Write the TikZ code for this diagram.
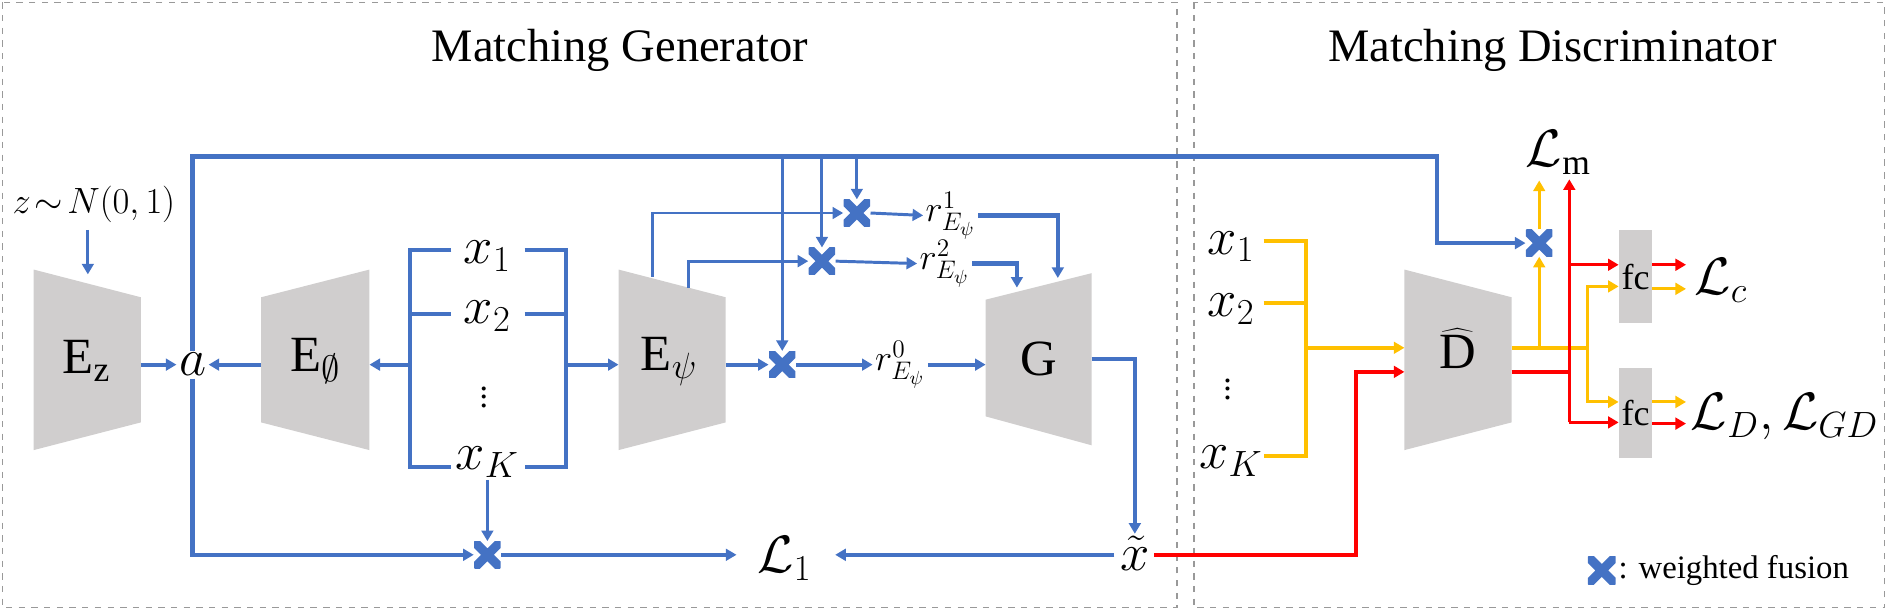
\documentclass[tikz,border=0pt]{standalone}
\usepackage{fontspec}
\setmainfont{Liberation Serif}
\usetikzlibrary{arrows.meta}
\definecolor{bl}{HTML}{4472C4}
\definecolor{yl}{HTML}{FFC000}
\definecolor{rd}{HTML}{FF0000}
\definecolor{gy}{HTML}{D0CECE}
\begin{document}
\begin{tikzpicture}[x=0.02cm,y=-0.02cm,
  tip/.style={-{Triangle[length=5pt,width=5.5pt]}},
  B/.style={draw=bl,line width=2pt},
  Bt/.style={draw=bl,line width=1.4pt},
  Y/.style={draw=yl,line width=2pt},
  Yt/.style={draw=yl,line width=1.4pt},
  R/.style={draw=rd,line width=2pt},
  Rt/.style={draw=rd,line width=1.4pt},
  trap/.style={fill=gy},
  lab/.style={font=\fontsize{24}{27}\selectfont,inner sep=1pt},
  dots/.style={font=\fontsize{16}{18}\selectfont,inner sep=0pt},
  small/.style={font=\fontsize{18}{21}\selectfont,inner sep=1pt},
  title/.style={font=\fontsize{22}{26}\selectfont},
  fuse/.style={minimum size=0.44cm,inner sep=0pt,path picture={
     \draw[bl,line width=4.3pt] (path picture bounding box.north west) -- (path picture bounding box.south east)
       (path picture bounding box.north east) -- (path picture bounding box.south west);}},
  fcbox/.style={fill=gy,minimum width=0.56cm,inner sep=0pt,font=\fontsize{17}{20}\selectfont}
]
\useasboundingbox (0,0) rectangle (1568,507);
\draw[gray!80,dashed,line width=0.7pt] (2,2) rectangle (978,505);
\draw[gray!80,dashed,line width=0.7pt] (992,2) rectangle (1566,505);
\node[title] (t1) at (515,42) {Matching Generator};
\node[title] (t2) at (1290,42) {Matching Discriminator};

% trapezoids
\fill[trap] (28,224) -- (117,247) -- (117,351) -- (28,374) -- cycle;
\fill[trap] (217,247) -- (307,224) -- (307,374) -- (217,351) -- cycle;
\fill[trap] (514,224) -- (603,247) -- (603,351) -- (514,374) -- cycle;
\fill[trap] (819,249) -- (907,227) -- (907,370) -- (819,346) -- cycle;
\fill[trap] (1167,224) -- (1256,247) -- (1256,351) -- (1167,374) -- cycle;
\node[lab] (Ez) at (72,300) {$\mathrm{E_z}$};
\node[lab] (Eo) at (262,300) {$\mathrm{E}_\emptyset$};
\node[lab] (Ep) at (556,300) {$\mathrm{E}_\psi$};
\node[lab] (G) at (863,298) {$\mathrm{G}$};
\node[lab] (D) at (1211,290) {$\widehat{\mathrm{D}}$};
\coordinate (EzR) at (117,303);
\coordinate (EoL) at (217,303);
\coordinate (EoR) at (307,303);
\coordinate (EpL) at (514,303);
\coordinate (EpR) at (603,303);
\coordinate (GL) at (819,303);
\coordinate (GR) at (907,298);
\coordinate (DL1) at (1167,289);
\coordinate (DL2) at (1167,309);

% generator text
\node[small] (z) at (78,170) {$z\!\sim\! N(0,1)$};
\node[lab] (a) at (160,303) {$a$};
\node[lab] (x1) at (405,213) {$x_1$};
\node[lab] (x2) at (405,263) {$x_2$};
\node[dots] (xd) at (402,325) {$\vdots$};
\node[lab] (xK) at (405,384) {$x_K$};
\node[fuse] (c0) at (650,303) {};
\node[fuse] (c1) at (712,177) {};
\node[fuse] (c2) at (683,217) {};
\node[fuse] (c3) at (405,461) {};
\node[small] (r0) at (748,303) {$r^0_{E_\psi}$};
\node[small] (r1) at (790,179) {$r^1_{E_\psi}$};
\node[small] (r2) at (785,219) {$r^2_{E_\psi}$};
\node[lab] (L1) at (652,464) {$\mathcal{L}_1$};
\node[lab] (xt) at (943,460) {$\tilde{x}$};
\coordinate (L1w) at (612,461);
\coordinate (L1e) at (694,461);

\draw[Bt,tip] (73,191) -- (73,228);
\draw[B,tip] (EzR) -- (a.west);
\draw[B,tip] (EoL) -- (a.east);
% bracket
\draw[B] (375,208) -- (341,208) -- (341,388) -- (375,388);
\draw[B] (341,261) -- (375,261);
\draw[B] (436,208) -- (470,208) -- (470,388) -- (436,388);
\draw[B] (436,261) -- (470,261);
\draw[B,tip] (341,303) -- (EoR);
\draw[B,tip] (470,303) -- (EpL);
% E_psi outputs
\draw[B,tip] (EpR) -- (c0.west);
\draw[B,tip] (c0.east) -- (r0.west);
\draw[B,tip] (r0.east) -- (GL);
\draw[Bt,tip] (542,230) |- (c1.west);
\draw[Bt,tip] (572,239) |- (c2.west);
\draw[Bt,tip] (c1.east) -- (r1.west);
\draw[Bt,tip] (c2.east) -- (r2.west);
\draw[B,tip] (r1.east) -| (879,231);
\draw[B,tip] (r2.east) -| (845,239);
% top line
\node[fuse] (cm) at (1279,202) {};
\draw[B,tip] (a.north) |- (1194,130) |- (cm.west);
\draw[Bt,tip] (650,130) -- (c0.north);
\draw[Bt,tip] (683,130) -- (c2.north);
\draw[Bt,tip] (712,130) -- (c1.north);
% G out and bottom
\draw[B,tip] (GR) -| (xt.north);
\draw[B,tip] (a.south) |- (c3.west);
\draw[Bt,tip] (xK.south) -- (c3.north);
\draw[B,tip] (c3.east) -- (L1w);
\draw[B,tip] (926,461) -- (L1e);
\draw[R,tip] (959,461) -| (1127,309) -- (DL2);

% discriminator
\node[lab] (y1) at (1023,205) {$x_1$};
\node[lab] (y2) at (1023,257) {$x_2$};
\node[dots] (yd) at (1020,318) {$\vdots$};
\node[lab] (yK) at (1023,383) {$x_K$};
\draw[Y] (1050,200) -- (1085,200) -- (1085,379) -- (1050,379);
\draw[Y] (1050,252) -- (1085,252);
\draw[Y,tip] (1085,289) -- (DL1);

\node[lab] (Lm) at (1295,127) {$\mathcal{L}_\mathrm{m}$};
\node[fcbox,minimum height=1.54cm] (fc1) at (1359,230) {fc};
\node[fcbox,minimum height=1.5cm] (fc2) at (1359,343) {fc};
\node[lab] (Lc) at (1430,233) {$\mathcal{L}_c$};
\node[lab,anchor=west] (LD) at (1403,346) {$\mathcal{L}_D,\mathcal{L}_{GD}$};

\coordinate (f1y) at (1345,238);
\coordinate (f2y) at (1345,334);
\coordinate (f1r) at (1345,220);
\coordinate (f2r) at (1345,351);
\draw[Y] (1256,289) -- (1319,289);
\draw[Yt,tip] (1279,289) -- (cm.south);
\draw[Yt,tip] (cm.north) -- (1279,150);
\draw[Yt,tip] (1319,289) |- (f1y);
\draw[Yt,tip] (1319,289) |- (f2y);
\draw[R] (1256,309) -- (1304,309);
\draw[Rt,tip] (1304,351) -- (1304,149);
\draw[Rt,tip] (1304,220) -- (f1r);
\draw[Rt,tip] (1304,351) -- (f2r);
\draw[Rt,tip] (1373,220) -- (1401,220);
\draw[Yt,tip] (1373,240) -- (1401,240);
\draw[Yt,tip] (1373,334) -- (1401,334);
\draw[Rt,tip] (1373,352) -- (1401,352);

% legend
\node[fuse,minimum size=0.46cm] (lg) at (1331,474) {};
\node[anchor=west,font=\fontsize{15.5}{18}\selectfont,inner sep=1pt] (lgt) at (lg.east) {: weighted fusion};
\end{tikzpicture}
\end{document}
